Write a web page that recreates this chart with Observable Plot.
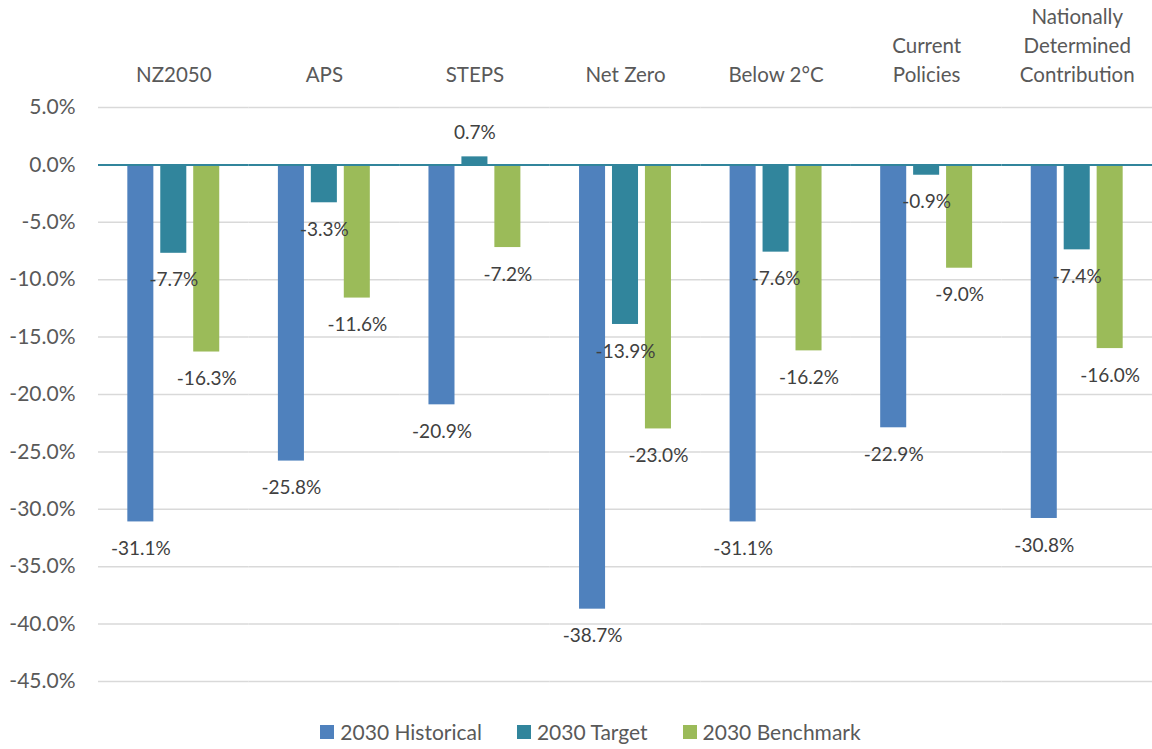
<!DOCTYPE html>
<html>
<head>
<meta charset="utf-8">
<script src="https://cdn.jsdelivr.net/npm/d3@7"></script>
<script src="https://cdn.jsdelivr.net/npm/@observablehq/plot@0.6"></script>
<style>
  html, body { margin: 0; padding: 0; background: #fff; }
  #chart { width: 1152px; }
  .legend { display: flex; justify-content: center; align-items: center; gap: 35px; width: 1152px; box-sizing: border-box; padding-left: 29px; margin-top: 7px;
    font-family: Lato, "Open Sans", sans-serif; font-size: 21px; color: #595959; }
  .legend .item { display: flex; align-items: center; gap: 6px; }
  .legend .sw { width: 14px; height: 14px; display: inline-block; }
</style>
</head>
<body>
<div id="chart"></div>
<script>
const categories = ["NZ2050", "APS", "STEPS", "Net Zero", "Below 2°C", "Current Policies", "Nationally Determined Contribution"];
const categoryLabels = ["NZ2050", "APS", "STEPS", "Net Zero", "Below 2°C", "Current\nPolicies", "Nationally\nDetermined\nContribution"];
const seriesNames = ["2030 Historical", "2030 Target", "2030 Benchmark"];
const seriesColors = ["#4F81BD", "#31859C", "#9BBB59"];
const historical = [-31.1, -25.8, -20.9, -38.7, -31.1, -22.9, -30.8];
const target = [-7.7, -3.3, 0.7, -13.9, -7.6, -0.9, -7.4];
const benchmark = [-16.3, -11.6, -7.2, -23.0, -16.2, -9.0, -16.0];
const yTicks = [5, 0, -5, -10, -15, -20, -25, -30, -35, -40, -45];

const seriesValues = [historical, target, benchmark];
const data = [];
categories.forEach((c, i) => {
  seriesNames.forEach((s, j) => {
    data.push({category: c, series: s, value: seriesValues[j][i]});
  });
});
const labelMap = new Map(categories.map((c, i) => [c, categoryLabels[i]]));
const fmt = v => v.toFixed(1) + "%";

const chart = Plot.plot({
  width: 1152,
  height: 712,
  marginLeft: 98,
  marginRight: 0,
  marginTop: 107,
  marginBottom: 31,
  style: {fontFamily: "Lato, 'Open Sans', sans-serif", fontSize: "20px", color: "#595959", background: "#fff"},
  fx: {domain: categories, padding: 0, round: false, label: null, axis: null},
  x: {domain: seriesNames, paddingInner: 0.21, paddingOuter: 0.89, round: false, axis: null},
  y: {domain: [-45, 5], label: null},
  color: {domain: seriesNames, range: seriesColors},
  marks: [
    Plot.axisFx({anchor: "top", tickSize: 0, tickPadding: 26, lineHeight: 1.4, fontSize: 20.5, fill: "#595959",
                 tickFormat: d => labelMap.get(d), label: null}),
    Plot.ruleY(yTicks.filter(d => d !== 0), {stroke: "#D9D9D9", strokeWidth: 1.5}),
    Plot.axisY(yTicks, {tickSize: 0, tickPadding: 23, tickFormat: fmt, fontSize: 21, fill: "#595959", label: null}),
    Plot.barY(data, {fx: "category", x: "series", y: "value", fill: "series"}),
    Plot.ruleY([0], {stroke: "#31859C", strokeWidth: 2}),
    Plot.text(data.filter(d => d.value < 0), {fx: "category", x: "series", y: "value", text: d => fmt(d.value), dy: 27, fontSize: 19, fill: "#404040"}),
    Plot.text(data.filter(d => d.value >= 0), {fx: "category", x: "series", y: "value", text: d => fmt(d.value), dy: -24, fontSize: 19, fill: "#404040"})
  ]
});
document.getElementById("chart").appendChild(chart);

const legend = document.createElement("div");
legend.className = "legend";
seriesNames.forEach((s, i) => {
  const item = document.createElement("div");
  item.className = "item";
  const sw = document.createElement("span");
  sw.className = "sw";
  sw.style.background = seriesColors[i];
  const t = document.createElement("span");
  t.textContent = s;
  item.appendChild(sw);
  item.appendChild(t);
  legend.appendChild(item);
});
document.body.appendChild(legend);
</script>
</body>
</html>
